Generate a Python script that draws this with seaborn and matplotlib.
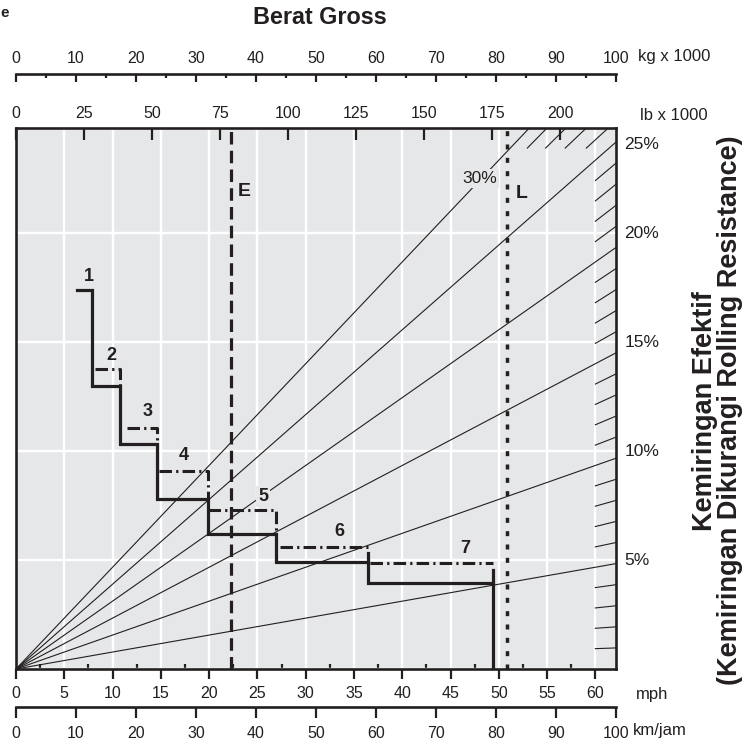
import numpy as np
import pandas as pd
import matplotlib
matplotlib.use("Agg")
import matplotlib.pyplot as plt
import seaborn as sns

# ---------------- chart data ----------------
kg_ticks = [0, 10, 20, 30, 40, 50, 60, 70, 80, 90, 100]          # kg x 1000
kg_minor = [5, 15, 25, 35, 45, 55, 65, 75, 85, 95]
lb_ticks = [0, 25, 50, 75, 100, 125, 150, 175, 200]             # lb x 1000
mph_ticks = [0, 5, 10, 15, 20, 25, 30, 35, 40, 45, 50, 55, 60]
mph_minor = [2.5, 7.5, 12.5, 17.5, 22.5, 27.5, 32.5, 37.5, 42.5, 47.5, 52.5, 57.5]
kmh_ticks = [0, 10, 20, 30, 40, 50, 60, 70, 80, 90, 100]

grid_pcts = [0, 5, 10, 15, 20]
grade_lines = [5, 10, 15, 20, 25, 30]                            # % effective grade
grade_ticks = list(range(1, 30))                                 # short 1% marks
grade_label_values = [5, 10, 15, 20, 25]
grade_label_texts = ["5%", "10%", "15%", "20%", "25%"]

gear_names = ["1", "2", "3", "4", "5", "6", "7"]
shift_speed = [6.3, 7.9, 10.8, 14.6, 19.9, 26.9, 36.45, 49.4]    # mph
gear_grade = [17.4, 13.0, 10.3, 7.8, 6.2, 4.9, 3.95]             # % (solid curve)
dd_start = [8.2, 11.5, 14.8, 19.9, 27.3, 36.7]                   # gears 2..7, mph
dd_grade = [13.75, 11.05, 9.1, 7.3, 5.6, 4.85]                   # gears 2..7, %
label_speed = [7.5, 9.9, 13.6, 17.4, 25.6, 33.5, 46.5]
label_grade = [18.0, 14.4, 11.8, 9.8, 7.9, 6.3, 5.55]

empty_kg = 35.8     # E, kg x 1000
loaded_kg = 81.8    # L, kg x 1000

# ---------------- scales / style ----------------
XMAX = 62.137       # 100 km/h in mph
KG_MAX = 100.0
LB_MAX = 220.462
YTOP = 24.82
GRADE_K = 0.967
HATCH_X0 = 60.0
TOP_HATCH = 0.92
INK = "#231f20"
BG = "#e6e7e8"

plt.rcParams["font.family"] = ["Liberation Sans", "DejaVu Sans"]
plt.rcParams["lines.scale_dashes"] = False
plt.rcParams["text.color"] = INK
plt.rcParams["xtick.color"] = INK
plt.rcParams["xtick.labelcolor"] = INK

W, H = 746, 745
fig = plt.figure(figsize=(W / 100, H / 100), dpi=100)

ax = fig.add_axes([16 / W, 1 - 669 / H, 600 / W, 541 / H])
ax.set_facecolor(BG)

# grade lines from origin
rows = []
for g in grade_lines:
    rows.append(dict(g=g, mph=0.0, y=0.0))
    rows.append(dict(g=g, mph=XMAX, y=g * GRADE_K))
df_grade = pd.DataFrame(rows)
sns.lineplot(data=df_grade, x="mph", y="y", units="g", estimator=None, sort=False,
             color=INK, lw=0.8, ax=ax, legend=False)

# short hatch marks for every 1 %
rows = []
for g in grade_ticks:
    if g in grade_lines:
        continue
    s = g * GRADE_K / XMAX
    if g * GRADE_K <= YTOP:
        rows.append(dict(g=g, mph=HATCH_X0, y=s * HATCH_X0))
        rows.append(dict(g=g, mph=XMAX, y=s * XMAX))
    else:
        y0 = YTOP - TOP_HATCH
        rows.append(dict(g=g, mph=y0 / s, y=y0))
        rows.append(dict(g=g, mph=YTOP / s, y=YTOP))
df_hatch = pd.DataFrame(rows)
sns.lineplot(data=df_hatch, x="mph", y="y", units="g", estimator=None, sort=False,
             color=INK, lw=0.8, ax=ax, legend=False)

# solid stepped curve
sx, sy = [], []
for i, lvl in enumerate(gear_grade):
    sx += [shift_speed[i], shift_speed[i + 1]]
    sy += [lvl, lvl]
sx.append(shift_speed[-1]); sy.append(0.0)
sns.lineplot(x=sx, y=sy, estimator=None, sort=False, color=INK, lw=2.3, ax=ax,
             solid_joinstyle="miter")

# dash-dot curves for gears 2..7
DD = (0, (9, 3, 1.6, 3))
for k in range(len(dd_start)):
    i = k + 1
    xs = [dd_start[k], shift_speed[i + 1]]
    ys = [dd_grade[k], dd_grade[k]]
    if i + 1 < 6:
        xs.append(shift_speed[i + 1]); ys.append(gear_grade[i])
        sns.lineplot(x=xs, y=ys, estimator=None, sort=False, color=INK, lw=2.2,
                     linestyle=DD, ax=ax)
    else:
        sns.lineplot(x=xs, y=ys, estimator=None, sort=False, color=INK, lw=2.2,
                     linestyle=DD, ax=ax)
        sns.lineplot(x=[shift_speed[i + 1], shift_speed[i + 1]],
                     y=[dd_grade[k] - 0.3, gear_grade[i]], estimator=None, sort=False,
                     color=INK, lw=2.3, ax=ax)

# E and L weight lines
xE = empty_kg / KG_MAX * XMAX
xL = loaded_kg / KG_MAX * XMAX
sns.lineplot(x=[xE, xE], y=[0, YTOP], estimator=None, sort=False, color=INK, lw=2.3,
             linestyle=(0, (9, 4.5)), ax=ax)
sns.lineplot(x=[xL, xL], y=[0, YTOP], estimator=None, sort=False, color=INK, lw=2.5,
             linestyle=(0, (3.6, 6)), ax=ax)
ax.annotate("E", xy=(xE, 21.9), xytext=(9.5, 0), textcoords="offset points",
            ha="center", va="center", fontsize=14, fontweight="bold")
ax.annotate("L", xy=(xL, 21.8), xytext=(10.5, 0), textcoords="offset points",
            ha="center", va="center", fontsize=14, fontweight="bold")

# gear labels
for name, lx, ly in zip(gear_names, label_speed, label_grade):
    kw = {}
    if name == "5":
        kw["bbox"] = dict(boxstyle="square,pad=0.1", fc=BG, ec="none")
    ax.text(lx, ly, name, ha="center", va="center", fontsize=13, fontweight="bold", **kw)

ax.text(48.05, 22.5, "30%", ha="center", va="center", fontsize=12.5,
        bbox=dict(boxstyle="square,pad=0.12", fc=BG, ec="none"))

# right % labels
for v, t in zip(grade_label_values, grade_label_texts):
    ax.annotate(t, xy=(XMAX, min(v, YTOP - 0.75)), xytext=(6, 0),
                textcoords="offset points", ha="left", va="center", fontsize=12.5,
                annotation_clip=False)

ax.set_xlim(0, XMAX)
ax.set_ylim(0, YTOP)
ax.set_xlabel(""); ax.set_ylabel("")
ax.set_axisbelow(True)
ax.set_xticks(mph_ticks)
ax.set_xticks(mph_minor, minor=True)
ax.set_yticks(grid_pcts)
ax.grid(True, which="major", color="white", lw=1.7)
ax.tick_params(axis="y", left=False, labelleft=False)
ax.tick_params(axis="x", which="major", direction="out", length=7.5, width=1.6,
               pad=5, labelsize=11.5)
ax.tick_params(axis="x", which="minor", direction="in", length=3.6, width=1.6)
for s in ax.spines.values():
    s.set_linewidth(1.9); s.set_color(INK)

# top lb axis (on frame)
axl = ax.twiny()
axl.set_xlim(0, LB_MAX)
axl.set_xticks(lb_ticks)
axl.tick_params(axis="x", direction="in", length=8.6, width=1.6, pad=5, labelsize=11.5)
for s in axl.spines.values():
    s.set_visible(False)

# kg axis (separate scale above)
axk = fig.add_axes([16 / W, 1 - 84 / H, 600 / W, 10 / H])
axk.set_xlim(0, KG_MAX); axk.set_ylim(0, 1)
axk.patch.set_visible(False)
for n in ["left", "right", "bottom"]:
    axk.spines[n].set_visible(False)
axk.spines["top"].set_linewidth(1.9); axk.spines["top"].set_color(INK)
axk.xaxis.tick_top()
axk.set_xticks(kg_ticks); axk.set_xticks(kg_minor, minor=True)
axk.set_yticks([])
axk.tick_params(axis="x", which="major", direction="in", length=6, width=1.6, pad=6, labelsize=11.5)
axk.tick_params(axis="x", which="minor", direction="in", length=3.2, width=1.6)

# km/h axis (separate scale below)
axm = fig.add_axes([16 / W, 1 - 707 / H, 600 / W, 5 / H])
axm.set_xlim(0, 100); axm.set_ylim(0, 1)
axm.patch.set_visible(False)
for n in ["left", "right", "top"]:
    axm.spines[n].set_visible(False)
axm.spines["bottom"].set_linewidth(1.9); axm.spines["bottom"].set_color(INK)
axm.set_xticks(kmh_ticks)
axm.set_yticks([])
axm.tick_params(axis="x", direction="out", length=8, width=1.6, pad=5.5, labelsize=11.5)

# texts
fig.text(320 / W, 1 - 17 / H, "Berat Gross", ha="center", va="center",
         fontsize=16.8, fontweight="bold")
fig.text(638 / W, 1 - 57 / H, "kg x 1000", ha="left", va="center", fontsize=12)
fig.text(640 / W, 1 - 115 / H, "lb x 1000", ha="left", va="center", fontsize=12)
fig.text(636 / W, 1 - 694 / H, "mph", ha="left", va="center", fontsize=12)
fig.text(633 / W, 1 - 731 / H, "km/jam", ha="left", va="center", fontsize=12)
fig.text(0.5 / W, 1 - 13 / H, "e", ha="left", va="center", fontsize=11, fontweight="bold")
fig.text(705 / W, 1 - 411 / H, "Kemiringan Efektif",
         rotation=90, ha="center", va="center", fontsize=19.5, fontweight="bold")
fig.text(730 / W, 1 - 410 / H, "(Kemiringan Dikurangi Rolling Resistance)",
         rotation=90, ha="center", va="center", fontsize=19.5, fontweight="bold")

fig.savefig("out.png", dpi=100)
